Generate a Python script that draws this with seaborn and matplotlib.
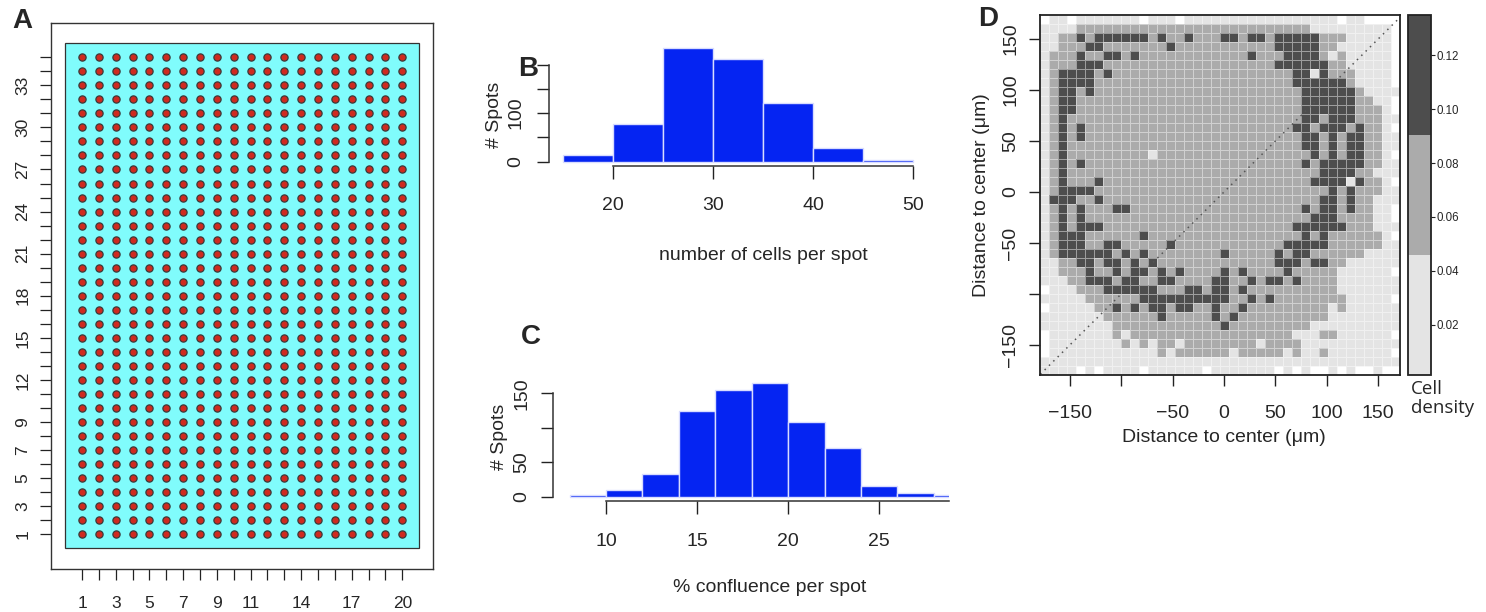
import numpy as np
import pandas as pd
import matplotlib
matplotlib.use("Agg")
import matplotlib.pyplot as plt
from matplotlib.colors import ListedColormap
from matplotlib.patches import Rectangle
import seaborn as sns

# ---------------- data ----------------
# Panel A: spot array (columns x rows)
a_cols = list(range(1, 21))
a_rows = list(range(1, 36))
a_xlabels = {1: "1", 3: "3", 5: "5", 7: "7", 9: "9", 11: "11", 14: "14", 17: "17", 20: "20"}
a_ylabels = {1: "1", 3: "3", 5: "5", 7: "7", 9: "9", 12: "12", 15: "15", 18: "18",
             21: "21", 24: "24", 27: "27", 30: "30", 33: "33"}

# Panel B: number of cells per spot
b_edges = [15, 20, 25, 30, 35, 40, 45, 50]
b_counts = [13, 77, 234, 212, 120, 28, 4]
b_xticks = [20, 30, 40, 50]
b_yticks = [0, 50, 100, 150, 200]
b_ylabels = ["0", "", "100", "", ""]

# Panel C: % confluence per spot
c_edges = [8, 10, 12, 14, 16, 18, 20, 22, 24, 26, 28, 30]
c_counts = [2, 10, 33, 125, 155, 165, 108, 70, 15, 5, 2]
c_xticks = [10, 15, 20, 25]
c_yticks = [0, 50, 100, 150]
c_ylabels = ["0", "50", "", "150"]

# Panel D: cell density map (W = empty, L/M/D = density class)
d_x_range = [-178.7, 171.5]
d_y_range = [-179.1, 173.8]
d_levels = {"W": np.nan, "L": 0.03, "M": 0.07, "D": 0.11}
d_rows = [
    "WLLWLLLLLL LWLLLWLLLL LLLLLLLLLL LLLWLLWWWW",
    "LLLLMMMMMM MMMMMMMMMM MMMMMMMMMM LLLLLLLLLW",
    "LLMMDMDDDD DDMDMMDMMM DDMDDMDDDD DMMMLLLLLW",
    "LLMMMDDMMM MMMMDMMMMM MMMMMMDDDD DMMLLLLLLW",
    "LMMMDMMDDM DMMMMMMMMM MMMDMMMDDD DMLMLLLLLW",
    "LMMMDDDMMM MMMMMMMMMM MMMMMMDDDD DDMMLLLLLW",
    "LMDDDDMDMM MMMMMMMMMM MMMMMMMMDD LDMMMLLLLW",
    "LMDDDDMMMM MMMMMMMMMM MMMMMMMMDD DDDDMLLLLW",
    "LMDDMDMMMM MMMMMMMMMM MMMMMMMMMD DDDDDMLLLL",
    "LMDDMMMMMM MMMMMMMMMM MMMMMMMMMD DDDDDMMLLW",
    "LMDDMMMMMM MMMMMMMMMM MMMMMMMMMD DDDDDMMMLW",
    "LMDMMMMMMM MMMMMMMMMM MMMMMMMMMD DMDDDMMMLL",
    "LMDMDMMMMM MMMMMMMMMM MMMMMMMMDD MDDDMDMMLW",
    "LMDMDMMMMM MMMMMMMMMM MMMMMMMMMD DMDMDDMMLL",
    "LMDMMMMMMM MMMMMMMMMM MMMMMMMMMD DMDMDDMMLL",
    "LMDMMMMMMM MMLMMMMMMM MMMMMMMMMM DMDMDDMMLW",
    "LMDMDMMMMM MMMMMMMMMM MMMMMMMMMD MDDDDDMMLL",
    "LMDMMMMMMM MMMMMMMMMM MMMMMMMMMM MDDDDMMLLL",
    "LMDMMMDMMM MMMMMMMMMM MMMMMMMMMM DDDDLDMMLW",
    "LMDDDDMMMM MMMMMMMMMM MMMMMMMMMM MMDMDMMMLL",
    "LDDDMMDMMM MMMMMMMMMM MMMMMMMMMM MDDMDMMLLL",
    "LMDMDMMMDD MMMMMMMMMM MMMMMMMMMD MDDMDMMLLW",
    "LMDMDMMMMM MMMMMMMMMM MMMMMMMMMM DDDMMMMLLW",
    "LMDMDDDMMM MMMMMMMMMM MMMMMMMMDD DDDDMMMLLL",
    "LMDDDMMMMM MDMMMMMMMM MMMMMMMMMD MDMMMMMMLW",
    "LMDDDMMDDM MMMMDMMMMM MMMMMMMDDD DDMMMMMMLL",
    "LMDDDDDDMD MDMMMMMMMM DMMMMMDMDD MMMMMMLLLL",
    "LLMMDDMDDM DMDMMMMMMM MMMMMMDDDM DDMMLLLLLL",
    "LLMMMDMMDM DDMDMDMMMM DMDMMMMDMM MMMLLLLLLW",
    "LLLMMDDDMD DMMDDMMMMD DMMDMDDMDM MMMLLLLLLL",
    "WLLLMMMDDD DDDMMMDDMD DMDMMMMMMM MMMLLLLLLL",
    "LLLLLMMMMM MDDDDDDDDD DMMDMDMMMM MMMMLLLLLW",
    "WLLLLLMMDM DMDDMDDMMD MMDMMMMMMM MMLMLLLLLL",
    "LLLLLLLMMM MMMDMMMMMD MDMMMMMMMM MMLLLLLLLL",
    "LLLLLLLLMM MMMMMMMMMM DMMMMMMMMM LLLLLLLLLL",
    "WLLLLLLLML MMMMMMMMMM MMMMMMMMLL LMMLLLLLLW",
    "WLLLLLLLLM LMLMMLMMMM MMMMLMMMML LLLLLLLLLL",
    "WLLLLLLLLL LLLMLMMMMM MLMMMMMLML LMLLLLLLLW",
    "LLLLLLLLLL LLLLLLLLLL LLLLLLLLLL LLLLLLLLLL",
    "LLLLWLWLLL LWLLLLLLWL LLLLLLWLWL WWLWLWWLWW",
]
d_ticks = [-150, -100, -50, 0, 50, 100, 150]
d_ticklabels = ["\u2212150", "", "\u221250", "0", "50", "100", "150"]
cbar_range = [0.0015, 0.135]
cbar_ticks = [0.02, 0.04, 0.06, 0.08, 0.10, 0.12]
cbar_ticklabels = ["0.02", "0.04", "0.06", "0.08", "0.10", "0.12"]
cbar_colors = ["#e4e4e4", "#ababab", "#4d4d4d"]

# ---------------- style ----------------
sns.set_theme(style="white")
plt.rcParams['font.family'] = ['Liberation Sans', 'DejaVu Sans']
plt.rcParams['axes.linewidth'] = 1.0

W, H = 1486, 612
fig = plt.figure(figsize=(W / 100, H / 100), dpi=100)
fig.patch.set_facecolor("white")


def px_axes(x0, y0, x1, y1):
    return fig.add_axes([x0 / W, 1 - y1 / H, (x1 - x0) / W, (y1 - y0) / H])


INK = "#222222"
BLUE = "#0524f2"
BAR_EDGE = "#d8dcff"

# ---------------- Panel A ----------------
axA = px_axes(51, 23, 433.3, 568.5)
axA.set_xlim(-0.84, 21.84)
axA.set_ylim(-1.44, 37.44)
axA.add_patch(Rectangle((0, 0), len(a_cols) + 1, len(a_rows) + 1, facecolor="#80fcfc",
                        edgecolor="#333333", lw=0.9, zorder=1))
gx, gy = np.meshgrid(a_cols, a_rows)
dfA = pd.DataFrame({"col": gx.ravel(), "row": gy.ravel()})
sns.scatterplot(data=dfA, x="col", y="row", ax=axA, s=27, color="#cf2a1f",
                edgecolor="#3a3a3a", linewidth=0.9, legend=False, zorder=3)
axA.set_xticks(a_cols)
axA.set_xticklabels([a_xlabels.get(c, "") for c in a_cols])
axA.set_yticks(a_rows)
axA.set_yticklabels([a_ylabels.get(r, "") for r in a_rows])
axA.set_xlabel("")
axA.set_ylabel("")
for s in axA.spines.values():
    s.set_visible(True)
    s.set_color("#333333")
    s.set_linewidth(1.0)
axA.tick_params(axis="x", bottom=True, direction="out", length=8, width=0.9,
                color=INK, labelsize=12.5, pad=11.5)
axA.tick_params(axis="y", left=True, direction="out", length=8, width=0.9,
                color=INK, labelsize=12.5, pad=7)
for lbl in axA.get_yticklabels():
    lbl.set_rotation(90)
    lbl.set_va("center")

# ---------------- Panel B ----------------
axB = px_axes(549.3, 43.6, 927.3, 166.2)
b_centers = [(b_edges[i] + b_edges[i + 1]) / 2 for i in range(len(b_counts))]
sns.histplot(x=b_centers, weights=b_counts, bins=b_edges, ax=axB, color=BLUE,
             alpha=1, edgecolor=BAR_EDGE, linewidth=1.0)
axB.set_xlim(13.6, 51.4)
axB.set_ylim(-9.36, 243.4)
axB.set_xticks(b_xticks)
axB.set_xticklabels([str(t) for t in b_xticks])
axB.set_yticks(b_yticks)
axB.set_yticklabels(b_ylabels)
axB.set_xlabel("")
axB.set_ylabel("")
sns.despine(ax=axB)
axB.spines["left"].set_bounds(0, 200)
axB.spines["bottom"].set_bounds(20, 50)
for s in ("left", "bottom"):
    axB.spines[s].set_color("#333333")
    axB.spines[s].set_linewidth(1.1)
axB.tick_params(axis="x", bottom=True, direction="out", length=9, width=1.0,
                color=INK, labelsize=14, pad=13.5)
axB.tick_params(axis="y", left=True, direction="out", length=9, width=1.0,
                color=INK, labelsize=14, pad=9)
for lbl in axB.get_yticklabels():
    lbl.set_rotation(90)
    lbl.set_va("center")
fig.text(763 / W, 1 - 255 / H, "number of cells per spot", ha="center", va="center", fontsize=14)
fig.text(495 / W, 1 - 115 / H, "# Spots", ha="center", va="center", rotation=90, fontsize=14)

# ---------------- Panel C ----------------
axC = px_axes(553.2, 378.6, 948.5, 501.2)
c_centers = [(c_edges[i] + c_edges[i + 1]) / 2 for i in range(len(c_counts))]
sns.histplot(x=c_centers, weights=c_counts, bins=c_edges, ax=axC, color=BLUE,
             alpha=1, edgecolor=BAR_EDGE, linewidth=1.0)
axC.set_xlim(7.1, 28.8)
axC.set_ylim(-6.6, 171.6)
axC.set_xticks(c_xticks)
axC.set_xticklabels([str(t) for t in c_xticks])
axC.set_yticks(c_yticks)
axC.set_yticklabels(c_ylabels)
axC.set_xlabel("")
axC.set_ylabel("")
sns.despine(ax=axC)
axC.spines["left"].set_bounds(0, 150)
axC.spines["bottom"].set_bounds(10, 28.8)
for s in ("left", "bottom"):
    axC.spines[s].set_color("#333333")
    axC.spines[s].set_linewidth(1.1)
axC.tick_params(axis="x", bottom=True, direction="out", length=9, width=1.0,
                color=INK, labelsize=14, pad=14)
axC.tick_params(axis="y", left=True, direction="out", length=9, width=1.0,
                color=INK, labelsize=14, pad=7.5)
for lbl in axC.get_yticklabels():
    lbl.set_rotation(90)
    lbl.set_va("center")
fig.text(770 / W, 1 - 588 / H, "% confluence per spot", ha="center", va="center", fontsize=14)
fig.text(499 / W, 1 - 437 / H, "# Spots", ha="center", va="center", rotation=90, fontsize=14)

# ---------------- Panel D ----------------
axD = px_axes(1040.3, 14.7, 1400.3, 374.7)
cax = px_axes(1407.5, 14.7, 1430.5, 374.7)
D = np.array([[d_levels[ch] for ch in r.replace(" ", "")] for r in d_rows])
nrow, ncol = D.shape
cx = (d_x_range[1] - d_x_range[0]) / ncol
cy = (d_y_range[1] - d_y_range[0]) / nrow
cmap = ListedColormap(cbar_colors)
sns.heatmap(D, ax=axD, cmap=cmap, vmin=cbar_range[0], vmax=cbar_range[1],
            cbar_ax=cax, linewidths=0.4, linecolor=(1, 1, 1, 0.45),
            xticklabels=False, yticklabels=False)
# diagonal y = x reference line
v = np.array([max(d_x_range[0], d_y_range[0]), min(d_x_range[1], d_y_range[1])])
axD.plot((v - d_x_range[0]) / cx, (d_y_range[1] - v) / cy, color="#555555",
         lw=1.1, ls=(0, (1, 3)))
axD.set_xticks([(t - d_x_range[0]) / cx for t in d_ticks])
axD.set_xticklabels(d_ticklabels, rotation=0)
axD.set_yticks([(d_y_range[1] - t) / cy for t in d_ticks])
axD.set_yticklabels(d_ticklabels)
for s in axD.spines.values():
    s.set_visible(True)
    s.set_color("#222222")
    s.set_linewidth(1.3)
axD.tick_params(axis="x", bottom=True, direction="out", length=8, width=1.0,
                color=INK, labelsize=14, pad=13.5)
axD.tick_params(axis="y", left=True, direction="out", length=8, width=1.0,
                color=INK, labelsize=14, pad=7)
for lbl in axD.get_yticklabels():
    lbl.set_rotation(90)
    lbl.set_va("center")
cb = axD.collections[0].colorbar
cb.set_ticks(cbar_ticks)
cb.set_ticklabels(cbar_ticklabels)
cb.outline.set_linewidth(1.3)
cb.outline.set_edgecolor("#222222")
cax.tick_params(right=True, direction="out", length=3, width=0.8, labelsize=8.3,
                pad=1.5, color=INK)
fig.text(1224 / W, 1 - 437 / H, "Distance to center (\u03bcm)", ha="center", va="center", fontsize=14)
fig.text(982 / W, 1 - 195 / H, "Distance to center (\u03bcm)", ha="center", va="center",
         rotation=90, fontsize=14)
fig.text(1411 / W, 1 - 380 / H, "Cell\ndensity", ha="left", va="top", fontsize=13.5,
         family=["Open Sans", "DejaVu Sans"], linespacing=1.05)

# ---------------- panel letters ----------------
for letter, (lx, ly) in {"A": (22, 21), "B": (528, 69), "C": (531, 337), "D": (988, 19)}.items():
    fig.text(lx / W, 1 - ly / H, letter, ha="center", va="center", fontsize=20,
             fontweight="bold")

fig.savefig("out.png", dpi=100, facecolor="white")
